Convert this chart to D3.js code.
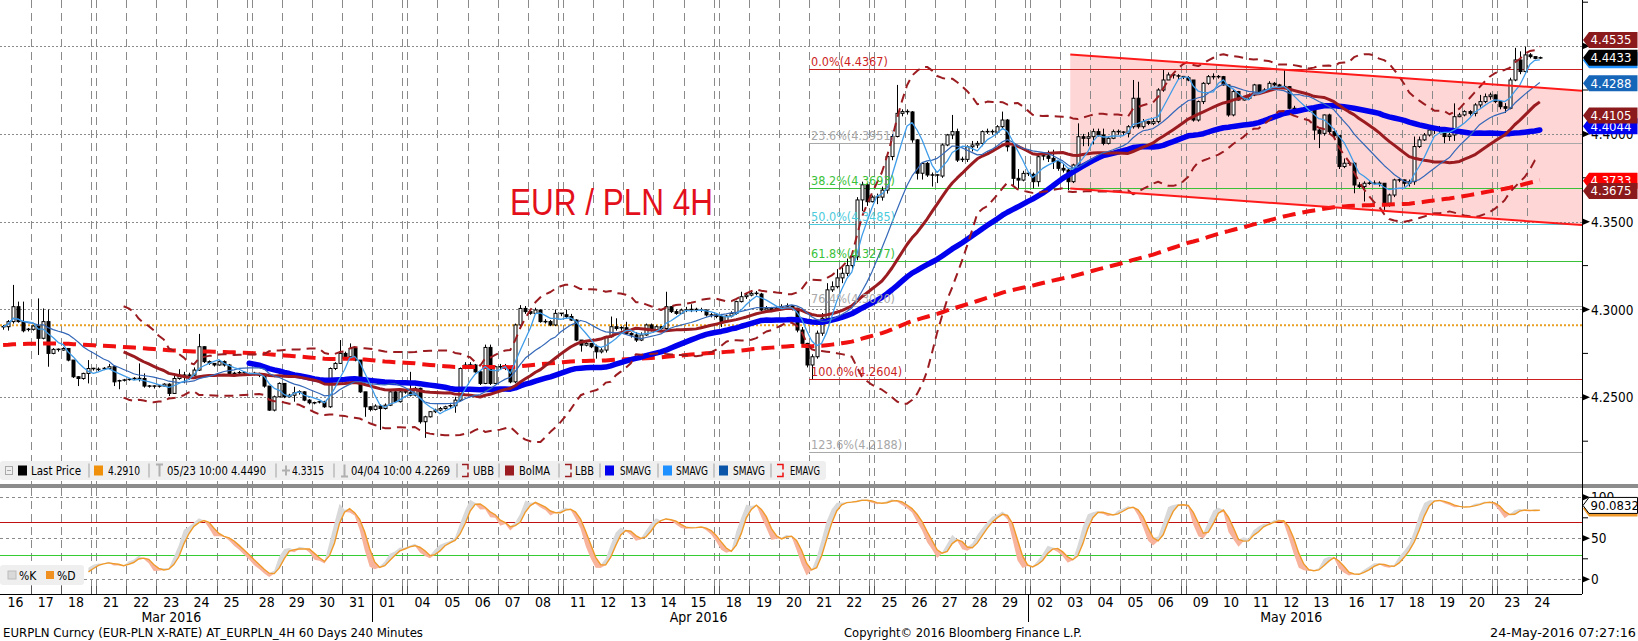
<!DOCTYPE html>
<html><head><meta charset="utf-8">
<script src="https://cdn.jsdelivr.net/npm/d3@7"></script>
<style>
html,body{margin:0;padding:0;background:#fff;overflow:hidden;}
svg{display:block;font-family:'DejaVu Sans Condensed','DejaVu Sans',sans-serif;font-stretch:condensed;}
</style></head><body>
<svg id="c" width="1638" height="641"></svg>
<script>
// ---------------- DATA ----------------
const days = [
"2016-03-16","2016-03-17","2016-03-18",
"2016-03-21","2016-03-22","2016-03-23","2016-03-24","2016-03-25",
"2016-03-28","2016-03-29","2016-03-30","2016-03-31","2016-04-01",
"2016-04-04","2016-04-05","2016-04-06","2016-04-07","2016-04-08",
"2016-04-11","2016-04-12","2016-04-13","2016-04-14","2016-04-15",
"2016-04-18","2016-04-19","2016-04-20","2016-04-21","2016-04-22",
"2016-04-25","2016-04-26","2016-04-27","2016-04-28","2016-04-29",
"2016-05-02","2016-05-03","2016-05-04","2016-05-05","2016-05-06",
"2016-05-09","2016-05-10","2016-05-11","2016-05-12","2016-05-13",
"2016-05-16","2016-05-17","2016-05-18","2016-05-19","2016-05-20",
"2016-05-23","2016-05-24"];

const firstOpen = 4.2895;
// 4H closes (weekday: 6 bars, weekend: 1 bar)
const close = [
4.2902,4.2931,4.3016,4.2931,4.2879,4.2887, // Mar16
4.2906,4.2836,4.2931,4.2750,4.2773,4.2769, // Mar17
4.2778,4.2712,4.2617,4.2607,4.2636,4.2664, // Mar18
4.2659,                                    // wk
4.2659,4.2664,4.2674,4.2588,4.2594,4.2598, // Mar21
4.2602,4.2607,4.2607,4.2564,4.2564,4.2560, // Mar22
4.2564,4.2575,4.2522,4.2607,4.2626,4.2626, // Mar23
4.2626,4.2655,4.2788,4.2703,4.2693,4.2684, // Mar24
4.2703,4.2684,4.2636,4.2636,4.2640,4.2632, // Mar25
4.2634,                                    // wk
4.2636,4.2626,4.2564,4.2427,4.2503,4.2579, // Mar28
4.2503,4.2512,4.2526,4.2531,4.2484,4.2469, // Mar29
4.2469,4.2474,4.2446,4.2664,4.2693,4.2750, // Mar30
4.2731,4.2778,4.2712,4.2531,4.2446,4.2431, // Mar31
4.2450,4.2436,4.2455,4.2531,4.2475,4.2531, // Apr01
4.2526,                                    // wk
4.2512,4.2551,4.2361,4.2389,4.2418,4.2427, // Apr04
4.2436,4.2446,4.2452,4.2484,4.2664,4.2684, // Apr05
4.2684,4.2645,4.2579,4.2784,4.2579,4.2674, // Apr06
4.2674,4.2665,4.2588,4.2912,4.3006,4.2988, // Apr07
4.2978,4.2997,4.2931,4.2931,4.2912,4.2978, // Apr08
4.2970,                                    // wk
4.2960,4.2940,4.2826,4.2797,4.2807,4.2788, // Apr11
4.2759,4.2769,4.2845,4.2902,4.2892,4.2896, // Apr12
4.2864,4.2855,4.2826,4.2855,4.2912,4.2883, // Apr13
4.2902,4.2892,4.3016,4.2988,4.2978,4.2997, // Apr14
4.2997,4.3000,4.2995,4.2997,4.2969,4.2969, // Apr15
4.2960,                                    // wk
4.2931,4.2963,4.2978,4.3045,4.3073,4.3082, // Apr18
4.3092,4.3088,4.2997,4.3007,4.2997,4.3007, // Apr19
4.3016,4.3020,4.3007,4.2883,4.2807,4.2684, // Apr20
4.2731,4.2865,4.2950,4.3112,4.3130,4.3180, // Apr21
4.3206,4.3250,4.3300,4.3624,4.3710,4.3614, // Apr22
4.3640,                                    // wk
4.3640,4.3680,4.3871,4.3985,4.4117,4.4127, // Apr25
4.4125,4.3966,4.3776,4.3832,4.3766,4.3766, // Apr26
4.3760,4.3937,4.3994,4.4013,4.3851,4.3855, // Apr27
4.3927,4.3937,4.3946,4.4013,4.4013,4.4010, // Apr28
4.4041,4.4079,4.3927,4.3747,4.3737,4.3775, // Apr29
4.3770,                                    // wk
4.3728,4.3870,4.3875,4.3861,4.3842,4.3804, // May02
4.3794,4.3728,4.3823,4.3984,4.3975,4.3984, // May03
4.4013,4.3994,4.3946,4.3975,4.4013,4.4010, // May04
4.4003,4.4041,4.4203,4.4041,4.4070,4.4060, // May05
4.4070,4.4250,4.4307,4.4336,4.4330,4.4326, // May06
4.4320,                                    // wk
4.4307,4.4079,4.4184,4.4288,4.4326,4.4320, // May09
4.4326,4.4279,4.4108,4.4241,4.4193,4.4203, // May10
4.4222,4.4279,4.4241,4.4250,4.4288,4.4279, // May11
4.4269,4.4269,4.4146,4.4127,4.4136,4.4136, // May12
4.4136,4.4022,4.4003,4.4108,4.4013,4.3990, // May13
4.3814,                                    // wk
4.3833,4.3833,4.3709,4.3700,4.3719,4.3719, // May16
4.3719,4.3719,4.3605,4.3652,4.3738,4.3738, // May17
4.3719,4.3728,4.3928,4.3966,4.3994,4.4022, // May18
4.4022,4.4022,4.3985,4.3994,4.4098,4.4108, // May19
4.4127,4.4117,4.4165,4.4184,4.4212,4.4222, // May20
4.4184,                                    // wk
4.4155,4.4146,4.4307,4.4421,4.4355,4.4450, // May23
4.4440,4.4430,4.4433                       // May24
];
const high = [
4.2912,4.2940,4.3140,4.3045,4.3045,4.2895,
4.2910,4.3063,4.3006,4.3000,4.2780,4.2778,
4.2785,4.2778,4.2712,4.2620,4.2640,4.2712,
4.2668,
4.2670,4.2672,4.2690,4.2680,4.2600,4.2605,
4.2610,4.2615,4.2693,4.2636,4.2570,4.2568,
4.2570,4.2580,4.2580,4.2636,4.2660,4.2645,
4.2640,4.2670,4.2861,4.2790,4.2710,4.2695,
4.2712,4.2710,4.2690,4.2645,4.2650,4.2645,
4.2640,
4.2645,4.2640,4.2630,4.2564,4.2510,4.2585,
4.2580,4.2520,4.2560,4.2540,4.2535,4.2490,
4.2475,4.2480,4.2480,4.2670,4.2700,4.2826,
4.2760,4.2807,4.2785,4.2712,4.2531,4.2450,
4.2460,4.2460,4.2465,4.2545,4.2540,4.2540,
4.2535,
4.2645,4.2560,4.2555,4.2395,4.2420,4.2435,
4.2445,4.2452,4.2460,4.2503,4.2670,4.2700,
4.2700,4.2690,4.2650,4.2800,4.2800,4.2680,
4.2690,4.2690,4.2670,4.2920,4.3025,4.3020,
4.3000,4.3010,4.3000,4.2945,4.2940,4.3000,
4.2980,
4.3000,4.2975,4.2945,4.2826,4.2815,4.2810,
4.2800,4.2780,4.2850,4.2960,4.2950,4.2905,
4.2930,4.2870,4.2870,4.2870,4.2920,4.2920,
4.2910,4.2905,4.3101,4.3020,4.3000,4.3005,
4.3015,4.3030,4.3010,4.3010,4.3000,4.2980,
4.2972,
4.2975,4.2970,4.2990,4.3050,4.3101,4.3090,
4.3110,4.3105,4.3095,4.3020,4.3015,4.3020,
4.3030,4.3035,4.3025,4.3010,4.2900,4.2810,
4.2745,4.2880,4.2980,4.3150,4.3160,4.3230,
4.3240,4.3290,4.3330,4.3640,4.3728,4.3720,
4.3650,
4.3660,4.3700,4.3880,4.4000,4.4279,4.4140,
4.4140,4.4130,4.3970,4.3840,4.3840,4.3780,
4.3770,4.3945,4.4000,4.4108,4.4030,4.3870,
4.3935,4.3960,4.3960,4.4020,4.4030,4.4025,
4.4050,4.4127,4.4085,4.3930,4.3800,4.3790,
4.3780,
4.3780,4.3880,4.3890,4.3905,4.3910,4.3845,
4.3830,4.3800,4.3830,4.4060,4.4000,4.4010,
4.4030,4.4030,4.4030,4.3985,4.4025,4.4025,
4.4015,4.4050,4.4307,4.4297,4.4085,4.4075,
4.4085,4.4260,4.4364,4.4350,4.4345,4.4340,
4.4330,
4.4330,4.4270,4.4190,4.4295,4.4335,4.4345,
4.4335,4.4330,4.4260,4.4250,4.4245,4.4210,
4.4230,4.4285,4.4280,4.4260,4.4300,4.4295,
4.4285,4.4364,4.4272,4.4160,4.4145,4.4145,
4.4145,4.4140,4.4030,4.4110,4.4115,4.4030,
4.3990,
4.3860,4.3845,4.3840,4.3725,4.3730,4.3730,
4.3735,4.3730,4.3720,4.3660,4.3745,4.3750,
4.3740,4.3740,4.3985,4.3985,4.4005,4.4041,
4.4041,4.4045,4.4030,4.4010,4.4174,4.4120,
4.4135,4.4135,4.4175,4.4222,4.4230,4.4235,
4.4225,
4.4190,4.4175,4.4320,4.4490,4.4470,4.4497,
4.4460,4.4440,4.4440
];
const low = [
4.2885,4.2880,4.2920,4.2925,4.2870,4.2875,
4.2880,4.2741,4.2830,4.2674,4.2745,4.2760,
4.2765,4.2705,4.2610,4.2564,4.2600,4.2579,
4.2652,
4.2650,4.2655,4.2660,4.2564,4.2546,4.2590,
4.2595,4.2598,4.2590,4.2555,4.2555,4.2550,
4.2555,4.2560,4.2507,4.2522,4.2600,4.2580,
4.2600,4.2620,4.2650,4.2695,4.2685,4.2675,
4.2680,4.2675,4.2630,4.2625,4.2630,4.2625,
4.2628,
4.2625,4.2615,4.2555,4.2423,4.2420,4.2500,
4.2495,4.2500,4.2475,4.2515,4.2478,4.2460,
4.2460,4.2465,4.2440,4.2440,4.2655,4.2690,
4.2725,4.2725,4.2705,4.2525,4.2389,4.2420,
4.2425,4.2314,4.2430,4.2450,4.2470,4.2470,
4.2520,
4.2505,4.2505,4.2350,4.2269,4.2385,4.2410,
4.2420,4.2430,4.2440,4.2412,4.2480,4.2660,
4.2670,4.2640,4.2570,4.2575,4.2570,4.2575,
4.2660,4.2655,4.2580,4.2580,4.2900,4.2975,
4.2970,4.2975,4.2925,4.2920,4.2905,4.2905,
4.2962,
4.2950,4.2935,4.2820,4.2760,4.2790,4.2780,
4.2720,4.2750,4.2755,4.2840,4.2880,4.2880,
4.2855,4.2840,4.2815,4.2820,4.2850,4.2875,
4.2880,4.2885,4.2885,4.2980,4.2970,4.2985,
4.2985,4.2985,4.2985,4.2985,4.2960,4.2955,
4.2950,
4.2900,4.2925,4.2955,4.2970,4.3040,4.3060,
4.3075,4.3080,4.2990,4.2990,4.2985,4.2995,
4.3000,4.3005,4.2995,4.2870,4.2790,4.2670,
4.2604,4.2720,4.2850,4.2930,4.3100,4.3120,
4.3150,4.3190,4.3230,4.3280,4.3560,4.3590,
4.3610,
4.3600,4.3620,4.3660,4.3850,4.3980,4.4100,
4.4110,4.3950,4.3740,4.3740,4.3755,4.3700,
4.3720,4.3750,4.3930,4.3970,4.3840,4.3840,
4.3840,4.3900,4.3920,4.3930,4.4000,4.3995,
4.4000,4.4030,4.3900,4.3700,4.3690,4.3730,
4.3760,
4.3690,4.3700,4.3850,4.3840,4.3800,4.3790,
4.3780,4.3680,4.3720,4.3810,4.3930,4.3930,
4.3940,4.3985,4.3935,4.3940,4.3970,4.3995,
4.3990,4.3980,4.4030,4.4030,4.4030,4.4050,
4.4050,4.4060,4.4240,4.4310,4.4315,4.4310,
4.4312,
4.4300,4.4070,4.4070,4.4170,4.4280,4.4310,
4.4315,4.4275,4.4098,4.4100,4.4190,4.4190,
4.4195,4.4215,4.4235,4.4240,4.4245,4.4270,
4.4255,4.4255,4.4140,4.4115,4.4120,4.4125,
4.4125,4.3966,4.3919,4.3990,4.4000,4.3980,
4.3800,
4.3805,4.3820,4.3662,4.3690,4.3615,4.3710,
4.3710,4.3700,4.3567,4.3585,4.3640,4.3725,
4.3700,4.3700,4.3710,4.3920,4.3960,4.3985,
4.4000,4.4005,4.3947,4.3960,4.3960,4.4095,
4.4100,4.4105,4.4100,4.4150,4.4175,4.4195,
4.4175,
4.4140,4.4120,4.4140,4.4300,4.4340,4.4350,
4.4430,4.4425,4.4428
];

// price axis ticks
const priceTicks = [4.45, 4.40, 4.35, 4.30, 4.25];
const priceTickShown = [false, true, true, true, true]; // 4.4500 label sits under the 4.4535 tag
const priceMinorTicks = [4.475, 4.425, 4.375, 4.325, 4.275, 4.225];
const refLine = 4.2910;
// Fibonacci retracement (from low bar to high)
const fibStartBar = 161;
const fibPct = ["0.0%","23.6%","38.2%","50.0%","61.8%","76.4%","100.0%","123.6%"];
const fibVal = [4.4367, 4.3951, 4.3693, 4.3485, 4.3277, 4.3020, 4.2604, 4.2188];
const fibColor = ["#cc1f1f","#a8a8a8","#39c239","#4ccbdc","#39c239","#a8a8a8","#cc1f1f","#a8a8a8"];
// trend channel [bar slot, price]
const channelUpper = [[213, 4.4452], [314.9, 4.4246]];
const channelLower = [[213, 4.3689], [314.9, 4.3481]];
// indicator settings
const bbPeriod = 25, bbK = 2, smaSlow = 50, smaFast = 5, smaMid = 14, emaPeriod = 200, emaSeed = 4.2797;
const stochN = 14;
// last-value tags (as shown on the right axis)
const tagVals  = [4.4420, 4.4433, 4.4535, 4.4288, 4.4044, 4.4105, 4.3733, 4.3675];
const tagFill  = ["#1e90ff","#000000","#8b1a1d","#1565b8","#0000f0","#8b1a1d","#ff0000","#8b1a1d"];
const stochTag = 90.0832;
const stochTicks = [100, 50, 0], stochMinor = [75, 25], stochBands = [70, 30];
// legend entries
const legendItems = [
  {icon:"sq", color:"#000000", text:"Last Price"},
  {icon:"sq", color:"#f0900a", text:"4.2910"},
  {icon:"T",  color:"#b0b0b0", text:"05/23 10:00 4.4490"},
  {icon:"P",  color:"#b0b0b0", text:"4.3315"},
  {icon:"B",  color:"#b0b0b0", text:"04/04 10:00 4.2269"},
  {icon:"br", color:"#9b1c20", text:"UBB"},
  {icon:"sq", color:"#9b1c20", text:"BolMA"},
  {icon:"br", color:"#9b1c20", text:"LBB"},
  {icon:"sq", color:"#0000ee", text:"SMAVG"},
  {icon:"sq", color:"#1e90ff", text:"SMAVG"},
  {icon:"sq", color:"#0b55a8", text:"SMAVG"},
  {icon:"br", color:"#ee1111", text:"EMAVG"}
];
// legend layout (x of icon, x and width of text, x of separator before item)
const legendIconX = [18, 94, 156, 282, 341, 462, 505, 565, 605, 663, 719, 777];
const legendTextX = [31, 108, 167, 292, 351, 473, 519, 575, 620, 676, 733, 790];
const legendTextW = [50, 32, 99, 32, 99, 21, 31, 19, 31, 32, 32, 30];
const legendSepX  = [null, 89, 149, 276, 334, 457, 499, 559, 600, 658, 714, 771];

// ---------------- LAYOUT ----------------
const W = 1638, H = 641, PR = 1582;
const UT = 0, UB = 484, LT = 488, LB = 594;
const svg = d3.select("#c");
const parse = d3.utcParse("%Y-%m-%d");
const dates = days.map(parse);
const dayStart = [], wkSlots = [];
let s = 0;
dates.forEach((d, i) => {
  dayStart.push(s); s += 6;
  if (i < dates.length - 1 && (dates[i+1] - d) / 864e5 > 1) { wkSlots.push(s); s += 1; }
});
const xS = d3.scaleLinear().domain([0, 314.9]).range([0.565, PR]);
const cx = i => xS(i + 0.5);
const yP = d3.scaleLinear().domain([4.35, 4.40]).range([221.7, 133.9]);
const yS = d3.scaleLinear().domain([0, 100]).range([579.3, 497.3]);
const n = close.length;
const open = close.map((c, i) => i ? close[i-1] : firstOpen);

// indicators
function sma(a, p, strict) {
  return a.map((v, i) => {
    if (strict && i < p - 1) return null;
    const st = Math.max(0, i - p + 1);
    return d3.mean(a.slice(st, i + 1));
  });
}
const maFast = sma(close, smaFast, false);
const maMid = sma(close, smaMid, false);
const maSlow = sma(close, smaSlow, true);
const bbMid = sma(close, bbPeriod, true);
const bbSd = close.map((v, i) => i < bbPeriod - 1 ? null : d3.deviation(close.slice(i - bbPeriod + 1, i + 1)) * Math.sqrt((bbPeriod - 1) / bbPeriod));
const bbUp = bbMid.map((m, i) => m == null ? null : m + bbK * bbSd[i]);
const bbLo = bbMid.map((m, i) => m == null ? null : m - bbK * bbSd[i]);
const alpha = 2 / (emaPeriod + 1);
const ema = []; close.forEach((c, i) => ema.push(alpha * c + (1 - alpha) * (i ? ema[i-1] : emaSeed)));
const rawK = close.map((c, i) => {
  if (i < stochN - 1) return null;
  const hh = d3.max(high.slice(i - stochN + 1, i + 1)), ll = d3.min(low.slice(i - stochN + 1, i + 1));
  return 100 * (c - ll) / (hh - ll);
});
const K = rawK.map((v, i) => i < stochN + 1 ? null : d3.mean(rawK.slice(i - 2, i + 1)));
const D = K.map((v, i) => i < stochN + 3 ? null : d3.mean(K.slice(i - 2, i + 1)));

// defs / clips
const defs = svg.append("defs");
defs.append("clipPath").attr("id", "cu").append("rect").attr("x", 0).attr("y", UT).attr("width", PR).attr("height", UB - UT);
defs.append("clipPath").attr("id", "cl").append("rect").attr("x", 0).attr("y", LT).attr("width", PR).attr("height", LB - LT);

svg.append("rect").attr("width", W).attr("height", H).attr("fill", "#fff");

const gU = svg.append("g").attr("clip-path", "url(#cu)");
const gL = svg.append("g").attr("clip-path", "url(#cl)");

// channel fill
const chPoly = [channelUpper[0], channelUpper[1], channelLower[1], channelLower[0]];
gU.append("path").attr("d", "M" + chPoly.map(p => [xS(p[0]), yP(p[1])].join(",")).join("L") + "Z")
  .attr("fill", "#ffd6d6");

// vertical grid
const bounds = dayStart.slice(1).concat(wkSlots);
[[gU, UT, UB], [gL, LT, LB]].forEach(([g, a, b]) => {
  g.selectAll(null).data(bounds).enter().append("line")
    .attr("x1", d => Math.round(xS(d)) + 0.5).attr("x2", d => Math.round(xS(d)) + 0.5)
    .attr("y1", a).attr("y2", b).attr("stroke", "#8a8a8a").attr("stroke-width", 1).attr("stroke-dasharray", "8,5");
});
// horizontal grid
gU.selectAll(null).data(priceTicks).enter().append("line")
  .attr("x1", 0).attr("x2", PR).attr("y1", d => Math.round(yP(d)) + 0.5).attr("y2", d => Math.round(yP(d)) + 0.5)
  .attr("stroke", "#8a8a8a").attr("stroke-dasharray", "2,2");
// fib lines
gU.selectAll(null).data(fibVal).enter().append("line")
  .attr("x1", xS(fibStartBar)).attr("x2", PR).attr("y1", d => Math.round(yP(d)) + 0.5).attr("y2", d => Math.round(yP(d)) + 0.5)
  .attr("stroke", (d, i) => fibColor[i]).attr("stroke-width", 1.2);
// ref line 4.2910
gU.append("line").attr("x1", 0).attr("x2", PR).attr("y1", yP(refLine)).attr("y2", yP(refLine))
  .attr("stroke", "#e8a020").attr("stroke-width", 2).attr("stroke-dasharray", "2,2");

// candles
const cg = gU.append("g");
close.forEach((c, i) => {
  const o = open[i], h = Math.max(high[i], o, c), l = Math.min(low[i], o, c);
  const x = Math.round(cx(i)) + 0.5;
  cg.append("line").attr("x1", x).attr("x2", x).attr("y1", yP(h)).attr("y2", yP(l)).attr("stroke", "#000").attr("stroke-width", 1);
  const top = yP(Math.max(o, c)), bot = yP(Math.min(o, c));
  const hgt = Math.max(1, bot - top);
  if (bot - top < 1.5) {
    cg.append("line").attr("x1", x - 2).attr("x2", x + 2).attr("y1", top).attr("y2", top).attr("stroke", "#000").attr("stroke-width", 1.5);
  } else {
    cg.append("rect").attr("x", x - 1.5).attr("y", top).attr("width", 3).attr("height", hgt)
      .attr("fill", c >= o ? "#fff" : "#000").attr("stroke", "#000").attr("stroke-width", 1);
  }
});

const lineGen = d3.line().defined(d => d != null).x((d, i) => cx(i)).y(d => yP(d));
function drawLine(g, arr, color, w, dash) {
  const p = g.append("path").attr("d", lineGen(arr)).attr("fill", "none").attr("stroke", color)
    .attr("stroke-width", w).attr("stroke-linejoin", "round");
  if (dash) p.attr("stroke-dasharray", dash);
  return p;
}
drawLine(gU, ema, "#f01010", 4, "13,7");
drawLine(gU, maSlow, "#0000ee", 5.5).attr("stroke-linecap", "round");
drawLine(gU, bbMid, "#9b1c20", 3);
drawLine(gU, bbUp, "#9b1c20", 2, "9,6");
drawLine(gU, bbLo, "#9b1c20", 2, "9,6");
drawLine(gU, maMid, "#3468b8", 1.2);
drawLine(gU, maFast, "#3f9ce8", 1.3);

// channel lines
[channelUpper, channelLower].forEach(cl => {
  gU.append("line").attr("x1", xS(cl[0][0])).attr("y1", yP(cl[0][1])).attr("x2", xS(cl[1][0])).attr("y2", yP(cl[1][1]))
    .attr("stroke", "#ff1a1a").attr("stroke-width", 2);
});

// fib labels
gU.selectAll(null).data(fibVal).enter().append("text")
  .attr("x", xS(fibStartBar) + 2).attr("y", d => yP(d) - 3)
  .attr("font-size", 12.5).attr("fill", (d, i) => fibColor[i])
  .text((d, i) => fibPct[i] + "(" + d.toFixed(4) + ")");

// title
svg.append("text").attr("x", 510).attr("y", 215).attr("font-family", "'Liberation Sans Narrow','Liberation Sans',Arial,sans-serif")
  .attr("font-size", 36).attr("fill", "#e3101c").attr("textLength", 203).attr("lengthAdjust", "spacingAndGlyphs")
  .text("EUR / PLN 4H");

// ---------- legend (upper) ----------
const lg = svg.append("g").attr("font-size", 12.5).attr("fill", "#000");
const ly = 470.5;
lg.append("rect").attr("x", 0).attr("y", 461).attr("width", 826).attr("height", 19).attr("rx", 3).attr("fill", "#efefef");
lg.append("rect").attr("x", 5.5).attr("y", ly - 4).attr("width", 7).attr("height", 8).attr("fill", "none").attr("stroke", "#aaa");
lg.append("line").attr("x1", 7).attr("x2", 11).attr("y1", ly).attr("y2", ly).attr("stroke", "#aaa");
legendItems.forEach((it, i) => {
  const x = legendIconX[i];
  if (legendSepX[i] != null)
    lg.append("line").attr("x1", legendSepX[i]).attr("x2", legendSepX[i]).attr("y1", ly - 7).attr("y2", ly + 7).attr("stroke", "#c8c8c8").attr("stroke-width", 2);
  if (it.icon === "sq") lg.append("rect").attr("x", x).attr("y", ly - 5).attr("width", 9).attr("height", 10).attr("fill", it.color);
  else if (it.icon === "br") lg.append("path").attr("d", `M${x},${ly-6}h6v5M${x+6},${ly+2}v4h-6`).attr("fill", "none").attr("stroke", it.color).attr("stroke-width", 1.5);
  else {
    const d = it.icon === "T" ? `M${x},${ly-6}h7M${x+3.5},${ly-6}v12`
            : it.icon === "B" ? `M${x},${ly+6}h7M${x+3.5},${ly+6}v-12`
            : `M${x},${ly}h8M${x+4},${ly-5}v10`;
    lg.append("path").attr("d", d).attr("fill", "none").attr("stroke", it.color).attr("stroke-width", 2);
  }
  lg.append("text").attr("x", legendTextX[i]).attr("y", ly + 4.5)
    .attr("textLength", legendTextW[i]).attr("lengthAdjust", "spacingAndGlyphs").text(it.text);
});

// panel separator
svg.append("rect").attr("x", 0).attr("y", UB).attr("width", W).attr("height", 4).attr("fill", "#8c8c8c");

// ---------- lower panel ----------
gL.selectAll(null).data(stochTicks).enter().append("line")
  .attr("x1", 0).attr("x2", PR).attr("y1", d => Math.round(yS(d)) + 0.5).attr("y2", d => Math.round(yS(d)) + 0.5)
  .attr("stroke", "#8a8a8a").attr("stroke-dasharray", "3,3");
gL.selectAll(null).data(stochBands).enter().append("line")
  .attr("x1", 0).attr("x2", PR).attr("y1", d => Math.round(yS(d)) + 0.5).attr("y2", d => Math.round(yS(d)) + 0.5)
  .attr("stroke", (d, i) => i ? "#33cc33" : "#c01010").attr("stroke-width", 1);
const idx = d3.range(n);
gL.append("path").attr("fill", "#d9d9d9")
  .attr("d", d3.area().defined(i => D[i] != null).x(i => cx(i)).y0(i => yS(D[i])).y1(i => yS(Math.max(K[i], D[i])))(idx));
gL.append("path").attr("fill", "#f8b39c")
  .attr("d", d3.area().defined(i => D[i] != null).x(i => cx(i)).y0(i => yS(D[i])).y1(i => yS(Math.min(K[i], D[i])))(idx));
gL.append("path").attr("fill", "none").attr("stroke", "#ef9a2a").attr("stroke-width", 1.4)
  .attr("d", d3.line().defined(i => D[i] != null).x(i => cx(i)).y(i => yS(D[i]))(idx));
// lower legend
const ll = svg.append("g").attr("font-size", 12);
ll.append("rect").attr("x", 0).attr("y", 565).attr("width", 84).attr("height", 20).attr("rx", 3).attr("fill", "#efefef");
ll.append("rect").attr("x", 8).attr("y", 571).attr("width", 8).attr("height", 8).attr("fill", "#d9d9d9").attr("stroke", "#bbb");
ll.append("text").attr("x", 19).attr("y", 579.5).text("%K");
ll.append("rect").attr("x", 46).attr("y", 571).attr("width", 8).attr("height", 8).attr("fill", "#f09020");
ll.append("text").attr("x", 57).attr("y", 579.5).text("%D");

// ---------- axes ----------
const ax = svg.append("g");
ax.append("line").attr("x1", PR + 0.5).attr("x2", PR + 0.5).attr("y1", 0).attr("y2", LB).attr("stroke", "#000");
ax.append("line").attr("x1", 0).attr("x2", PR).attr("y1", LB + 0.5).attr("y2", LB + 0.5).attr("stroke", "#000");
function tri(y) { ax.append("path").attr("d", `M${PR},${y-3.5}L${PR+8},${y}L${PR},${y+3.5}Z`).attr("fill", "#000"); }
priceTicks.forEach((v, i) => {
  tri(yP(v));
  if (priceTickShown[i]) ax.append("text").attr("x", PR + 9).attr("y", yP(v) + 5).attr("font-size", 13.5).text(v.toFixed(4));
});
priceMinorTicks.forEach(v => ax.append("line").attr("x1", PR).attr("x2", PR + 6).attr("y1", yP(v)).attr("y2", yP(v)).attr("stroke", "#000"));
stochTicks.forEach(v => {
  tri(yS(v));
  ax.append("text").attr("x", PR + 9).attr("y", yS(v) + 5).attr("font-size", 13.5).text(v);
});
stochMinor.forEach(v => ax.append("line").attr("x1", PR).attr("x2", PR + 6).attr("y1", yS(v)).attr("y2", yS(v)).attr("stroke", "#000"));
// bottom ticks
bounds.forEach(b => ax.append("line").attr("x1", Math.round(xS(b)) + 0.5).attr("x2", Math.round(xS(b)) + 0.5)
  .attr("y1", LB - 8).attr("y2", LB).attr("stroke", "#555"));
// day labels
const fmtD = d3.utcFormat("%d"), fmtM = d3.utcFormat("%b %Y");
dates.forEach((d, i) => ax.append("text").attr("x", xS(dayStart[i] + 3)).attr("y", 607).attr("text-anchor", "middle")
  .attr("font-size", 14).text(fmtD(d)));
// month labels & separators
const months = d3.groups(d3.range(dates.length), i => dates[i].getUTCMonth());
months.forEach(([m, ids], k) => {
  const mid = ids[Math.floor((ids.length - 1) / 2)];
  ax.append("text").attr("x", xS(dayStart[mid] + 3)).attr("y", 622).attr("text-anchor", "middle").attr("font-size", 14)
    .text(fmtM(dates[mid]));
  if (k > 0) {
    const first = ids[0];
    const xm = Math.round((xS(dayStart[first - 1] + 6) + xS(dayStart[first])) / 2) + 0.5;
    ax.append("line").attr("x1", xm).attr("x2", xm).attr("y1", LB).attr("y2", 622).attr("stroke", "#000");
  }
});
// footer
svg.append("text").attr("x", 3).attr("y", 637).attr("font-size", 13).attr("textLength", 420).attr("lengthAdjust", "spacingAndGlyphs")
  .text("EURPLN Curncy (EUR-PLN X-RATE) AT_EURPLN_4H 60 Days 240 Minutes");
svg.append("text").attr("x", 844).attr("y", 637).attr("font-size", 13).attr("textLength", 238).attr("lengthAdjust", "spacingAndGlyphs")
  .text("Copyright\u00A9 2016 Bloomberg Finance L.P.");
svg.append("text").attr("x", 1490).attr("y", 637).attr("font-size", 13).attr("textLength", 146).attr("lengthAdjust", "spacingAndGlyphs")
  .text("24-May-2016 07:27:16");

// ---------- tags ----------
function tag(y, label, fill, tcol, stroke) {
  const g = svg.append("g");
  g.append("path").attr("d", `M${PR+1},${y}L${PR+7},${y-8}H${W - 0.5}V${y+8}H${PR+7}Z`).attr("fill", fill)
    .attr("stroke", stroke || "none").attr("stroke-width", 1);
  if (label) g.append("text").attr("x", PR + 8.5).attr("y", y + 4.5).attr("font-size", 13).attr("fill", tcol).text(label);
}
tagVals.forEach((v, i) => tag(yP(v), v.toFixed(4), tagFill[i], "#fff"));
tag(yS(stochTag) + 3, "", "#ef9a2a", "#000");
tag(yS(stochTag), stochTag.toFixed(4), "#fff", "#000", "#000");
</script>
</body></html>
